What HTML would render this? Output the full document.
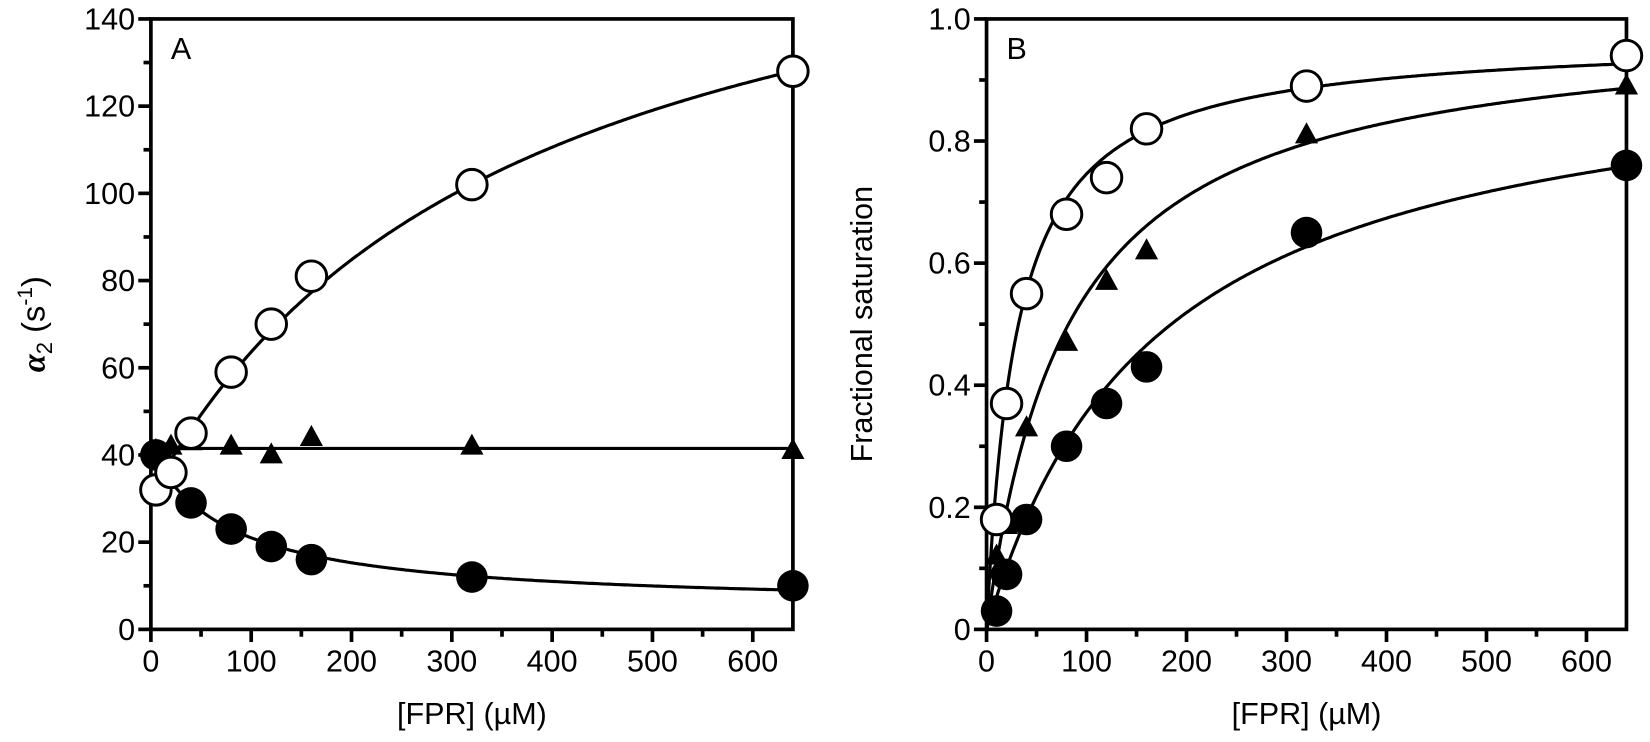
<!DOCTYPE html>
<html><head><meta charset="utf-8"><style>
html,body{margin:0;padding:0;background:#fff;}
svg{display:block;font-family:"Liberation Sans",Arial,sans-serif;}
</style></head><body>
<svg id="s" width="1650" height="742" viewBox="0 0 1567 705" xmlns="http://www.w3.org/2000/svg">
<text x="42" y="308" font-size="31" text-anchor="middle" transform="rotate(-90 42 308)"><tspan font-family="Liberation Serif" font-style="italic" font-weight="bold">α</tspan><tspan font-size="21" dy="7">2</tspan><tspan dy="-7">  (s</tspan><tspan font-size="20" dy="-12">-1</tspan><tspan dy="12">)</tspan></text>
<text x="828" y="308" font-size="29" text-anchor="middle" transform="rotate(-90 828 308)">Fractional saturation</text>
<text x="448" y="688" font-size="29" text-anchor="middle">[FPR]  (µM)</text>
<text x="1241" y="688" font-size="29" text-anchor="middle">[FPR]  (µM)</text>
<text x="162" y="56" font-size="29">A</text>
<text x="956" y="56" font-size="29">B</text>
<g id="g"></g>
</svg>
<script>
var g=document.getElementById('g'),h='';
function panel(L,R,T,B,ymax,ystep,fmt){
  var sx=function(x){return L+(R-L)*x/640},sy=function(y){return B-(B-T)*y/ymax};
  h+='<rect x="'+L+'" y="'+T+'" width="'+(R-L)+'" height="'+(B-T)+'" fill="none" stroke="#000" stroke-width="3.5"/>';
  for(var v=0;v<=600;v+=50){var x=sx(v),len=v%100==0?12:7;
    h+='<line x1="'+x+'" y1="'+B+'" x2="'+x+'" y2="'+(B+len)+'" stroke="#000" stroke-width="3.5"/>';
    if(v%100==0)h+='<text x="'+x+'" y="'+(B+40)+'" font-size="29" text-anchor="middle">'+v+'</text>';}
  var n=Math.round(ymax/ystep);
  for(var i=0;i<=2*n;i++){var y=sy(i*ystep/2),len=i%2==0?12:7;
    h+='<line x1="'+L+'" y1="'+y+'" x2="'+(L-len)+'" y2="'+y+'" stroke="#000" stroke-width="3.5"/>';
    if(i%2==0)h+='<text x="'+(L-15)+'" y="'+(y+10)+'" font-size="29" text-anchor="end">'+fmt(i/2*ystep)+'</text>';}
  return [sx,sy];
}
function curve(sx,sy,f,x0){var d='';for(var x=x0;x<=640;x+=2){d+=(d?'L':'M')+sx(x).toFixed(1)+','+sy(f(x)).toFixed(1);}
  h+='<path d="'+d+'" fill="none" stroke="#000" stroke-width="3"/>';}
function pts(sx,sy,a,type){a.forEach(function(p){var x=sx(p[0]),y=sy(p[1]);
  if(type=='o')h+='<circle cx="'+x+'" cy="'+y+'" r="14.5" fill="#fff" stroke="#000" stroke-width="2.8"/>';
  else if(type=='f')h+='<circle cx="'+x+'" cy="'+y+'" r="15" fill="#000"/>';
  else h+='<polygon points="'+x+','+(y-12)+' '+(x-11)+','+(y+8)+' '+(x+11)+','+(y+8)+'" fill="#000"/>';});}
var A=panel(143,753,18,598,140,20,function(v){return v;});
curve(A[0],A[1],function(x){return 31+153*x/(369+x);},0);
curve(A[0],A[1],function(x){return 41.5;},0);
curve(A[0],A[1],function(x){return 41-36*x/(80+x);},0);
pts(A[0],A[1],[[5,41],[20,42],[40,43],[80,42],[120,40],[160,44],[320,42],[640,41]],'t');
pts(A[0],A[1],[[5,40],[40,29],[80,23],[120,19],[160,16],[320,12],[640,10]],'f');
pts(A[0],A[1],[[5,32],[20,36],[40,45],[80,59],[120,70],[160,81],[320,102],[640,128]],'o');
var Bp=panel(937,1545,18,598,1.0,0.2,function(v){return v==0?'0':v.toFixed(1);});
curve(Bp[0],Bp[1],function(x){return 0.97*x/(30+x);},0);
curve(Bp[0],Bp[1],function(x){return 1.0*x/(82+x);},0);
curve(Bp[0],Bp[1],function(x){return 0.96*x/(170+x);},0);
pts(Bp[0],Bp[1],[[10,0.12],[20,0.17],[40,0.33],[80,0.47],[120,0.57],[160,0.62],[320,0.81],[640,0.89]],'t');
pts(Bp[0],Bp[1],[[10,0.03],[20,0.09],[40,0.18],[80,0.30],[120,0.37],[160,0.43],[320,0.65],[640,0.76]],'f');
pts(Bp[0],Bp[1],[[10,0.18],[20,0.37],[40,0.55],[80,0.68],[120,0.74],[160,0.82],[320,0.89],[640,0.94]],'o');
g.innerHTML=h;
</script>
</body></html>
